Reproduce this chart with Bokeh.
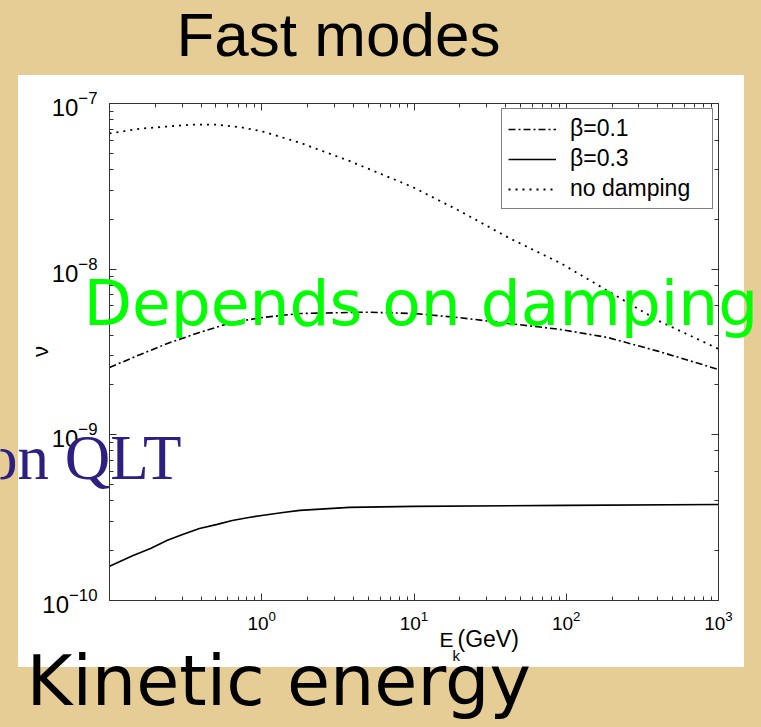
import math
from bokeh.plotting import figure
from bokeh.models import Range1d, LogAxis, FixedTicker, LogTicker, Label, CustomJSTickFormatter, GridBox
from bokeh.embed import file_html
from bokeh.resources import INLINE

# ---------------- data ----------------
E_nodamp = [0.1, 0.16, 0.34, 0.5, 0.72, 1.0, 1.78, 3.76, 7.9, 10, 19.7, 41.7, 93, 187, 400, 1000]
nu_nodamp = [6.6e-8, 7.05e-8, 7.45e-8, 7.45e-8, 7.2e-8, 6.8e-8, 5.8e-8, 4.5e-8, 3.4e-8,
             3.1e-8, 2.26e-8, 1.55e-8, 1.08e-8, 7.4e-9, 4.9e-9, 3.3e-9]

E_b01 = [0.1, 0.143, 0.24, 0.39, 0.64, 1.0, 1.78, 4.8, 10, 19.7, 41.7, 88, 187, 400, 1000]
nu_b01 = [2.55e-9, 2.93e-9, 3.56e-9, 4.15e-9, 4.77e-9, 5.1e-9, 5.4e-9, 5.5e-9, 5.4e-9,
          5.1e-9, 4.7e-9, 4.35e-9, 3.87e-9, 3.2e-9, 2.48e-9]

E_b03 = [0.1, 0.143, 0.186, 0.24, 0.305, 0.39, 0.51, 0.64, 0.84, 1.0, 1.38, 1.78, 2.93, 3.76,
         10, 100, 1000]
nu_b03 = [1.61e-10, 1.87e-10, 2.06e-10, 2.31e-10, 2.51e-10, 2.72e-10, 2.88e-10, 3.04e-10,
          3.18e-10, 3.26e-10, 3.4e-10, 3.5e-10, 3.6e-10, 3.65e-10, 3.7e-10, 3.75e-10, 3.8e-10]

series_labels = ["β=0.1", "β=0.3", "no damping"]
x_major_ticks = [1, 10, 100, 1000]
x_minor_ticks = [k * 10.0 ** d for d in range(-1, 3) for k in range(2, 10)]

# ---------------- layout constants ----------------
W, H = 761, 727
FL, FR, FT, FB = 109, 718, 103, 600   # frame edges (canvas px)
TAN = "#e6cd95"
AX = "#333333"

p = figure(width=W, height=H, x_axis_type="log", y_axis_type="log",
           x_range=Range1d(0.1, 1000), y_range=Range1d(1e-10, 1e-7),
           output_backend="svg", toolbar_location=None,
           min_border_left=FL, min_border_right=W - FR,
           min_border_top=FT, min_border_bottom=H - FB)
p.frame_align = False
p.border_fill_alpha = 0
p.background_fill_color = "white"
p.outline_line_color = AX
p.grid.visible = False
p.styles = {"background": f"linear-gradient(#ffffff, #ffffff) 18px 75px / 726px 592px no-repeat, {TAN}"}

# curves
r1 = p.line(E_b01, nu_b01, line_color="black", line_width=1.6, line_dash="7 3 2 3",
            legend_label=series_labels[0])
r2 = p.line(E_b03, nu_b03, line_color="black", line_width=1.6, legend_label=series_labels[1])
r3 = p.line(E_nodamp, nu_nodamp, line_color="black", line_width=1.8, line_dash="2 5",
            legend_label=series_labels[2])

# axes
def style_axis(ax, size):
    ax.axis_line_color = AX
    ax.major_tick_line_color = AX
    ax.minor_tick_line_color = AX
    ax.major_tick_in = 7
    ax.major_tick_out = 0
    ax.minor_tick_in = 4
    ax.minor_tick_out = 0
    ax.major_label_text_font = "Liberation Sans"
    ax.major_label_text_font_size = size
    ax.major_label_text_color = "black"

xa = p.xaxis[0]
xa.ticker = FixedTicker(ticks=x_major_ticks, minor_ticks=x_minor_ticks)
style_axis(xa, "19px")
xa.major_label_standoff = 10

ya = p.yaxis[0]
style_axis(ya, "24px")
ya.major_label_standoff = 12

top = LogAxis(ticker=FixedTicker(ticks=x_major_ticks, minor_ticks=x_minor_ticks),
              formatter=CustomJSTickFormatter(code="return ''"))
style_axis(top, "1px")
top.major_label_standoff = 0
p.add_layout(top, "above")
right = LogAxis(ticker=LogTicker(), formatter=CustomJSTickFormatter(code="return ''"))
style_axis(right, "1px")
right.major_label_standoff = 0
p.add_layout(right, "right")

# legend
lg = p.legend[0]
lg.location = "top_right"
lg.margin = 5
lg.border_line_color = "black"
lg.border_line_width = 1
lg.background_fill_color = "white"
lg.background_fill_alpha = 1
lg.label_text_font = "Liberation Sans"
lg.label_text_font_size = "23px"
lg.label_text_color = "black"
lg.glyph_width = 48
lg.glyph_height = 24
lg.label_height = 24
lg.label_standoff = 14
lg.label_width = 136
lg.padding = 6
lg.spacing = 3

# ---------------- overlay figure for the slide texts (covers the whole page) ----------------
t = figure(width=W, height=H, x_range=Range1d(0, W), y_range=Range1d(0, H),
           output_backend="svg", toolbar_location=None, title=None,
           x_axis_location=None, y_axis_location=None, min_border=0)
t.frame_align = False
t.grid.visible = False
t.outline_line_color = None
t.background_fill_alpha = 0
t.border_fill_alpha = 0

BASE_SHIFT = 0.375  # measured offset of the rendered alphabetic baseline, in em


def label(text, cx, cy, font, size, color="black", align="left", baseline="alphabetic", angle=0):
    y = cy - BASE_SHIFT * size if baseline == "alphabetic" else cy
    t.add_layout(Label(x=cx, y=H - y, x_units="screen", y_units="screen", text=text,
                       text_font=font, text_font_size=f"{size}px", text_color=color,
                       text_align=align, text_baseline=baseline, angle=angle))

# axis titles
label("E", 439, 647, "Liberation Sans", 21)
label("k", 452, 661, "Liberation Sans", 15)
label("(GeV)", 457, 647, "Liberation Sans", 23)
label("ν", 40, 351, "Liberation Sans", 22, baseline="middle", align="center", angle=math.pi / 2)

# slide texts
label("Fast modes", 176, 57, "Liberation Sans", 62)
label("Depends on damping", 83, 327, "DejaVu Sans", 63, color="#00ff00")
label("on QLT", 181, 481, "Liberation Serif", 63, color="#2d2080", align="right")
label("Kinetic energy", 26, 707, "DejaVu Sans", 70)

page = GridBox(children=[(p, 0, 0), (t, 0, 0)])

open("out.html", "w").write(file_html(page, INLINE))
